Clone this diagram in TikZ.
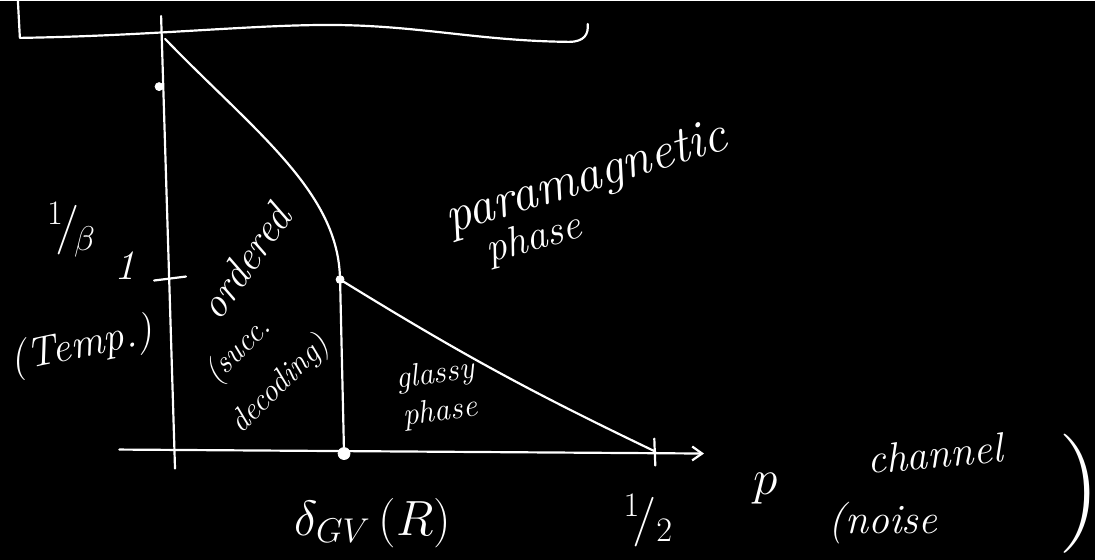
\documentclass[tikz,border=0pt]{standalone}
\usepackage{tikz}
\usetikzlibrary{arrows.meta,positioning}
\tikzset{
  ink/.style   = {draw=white, line width=1.1pt, line cap=round, line join=round},
  axis/.style  = {ink, -{Straight Barb[length=5pt, width=7pt]}},
  dot/.style   = {circle, draw=white, fill=white, inner sep=0pt, minimum size=4pt},
  hand/.style  = {text=white, inner sep=0pt, align=center},
  handL/.style = {hand, font=\fontsize{26}{28}\selectfont\itshape},
  handM/.style = {hand, font=\fontsize{21}{22}\selectfont\itshape},
  handS/.style = {hand, font=\fontsize{16}{19}\selectfont\itshape},
}
\begin{document}
\begin{tikzpicture}[x=0.5pt, y=-0.5pt]
  \fill[black] (0,0) rectangle (1101,562);
  % ---- edge of the frame at the top ----
  \draw[ink] (18,0) -- (20,37) .. controls (150,35) and (250,24) .. (330,24)
    .. controls (420,24) and (480,40) .. (572,41)
    .. controls (588,41) and (592,33) .. (591,23);
  % ---- axes ----
  \coordinate (yTop) at (162,15);
  \coordinate (yBot) at (176,470);
  \coordinate (xLeft) at (120,451);
  \coordinate (xRight) at (708,455);
  \draw[ink] (yTop) -- (yBot);
  \draw[axis] (xLeft) -- (xRight);
  \coordinate (tickL) at (155,281);
  \coordinate (tickR) at (187,277);
  \draw[ink] (tickL) -- (tickR);
  \coordinate (halfTop) at (658,440);
  \coordinate (halfBot) at (659,467);
  \draw[ink] (halfTop) -- (halfBot);
  % ---- phase boundaries ----
  \node[dot] (yDot) at (160,86) {};
  \coordinate (crit) at (166,38);
  \node[dot] (tp) at (342,280) {};
  \node[dot, minimum size=6pt] (gv) at (346,455) {};
  \coordinate (half) at (659,453);
  \draw[ink] (crit) .. controls (255,130) and (338,190) .. (tp);
  \draw[ink] (tp) -- (gv);
  \draw[ink] (tp) to[bend right=3] (half);
  % ---- labels ----
  \node[handL] (beta) at (72,230) {$^{1}\!/_{\!\beta}$};
  \node[handM] (one) at (126,266) {1};
  \node[handM, rotate=12] (temp) at (82,348) {(Temp.)};
  \node[handM, rotate=55] (ordered) at (246,262) {ordered};
  \node[handS, rotate=45] (succ) at (240,352) {(succ.};
  \node[handS, rotate=45] (decoding) at (282,386) {decoding)};
  \node[handS, rotate=8] (glassy) at (440,395) {glassy\\ phase};
  \node[handL, rotate=17] (para) at (590,180) {paramagnetic};
  \node[handM, rotate=15] (paraPh) at (537,240) {phase};
  \node[handL] (dGV) at (375,525) {$\delta_{GV}\,(R)$};
  \node[handL] (halfLbl) at (652,522) {$^{1}\!/_{2}$};
  \node[handL] (pLbl) at (770,490) {$p$};
  \node[handM, rotate=5] (channel) at (940,455) {channel};
  \node[handM] (noise) at (888,525) {(noise};
  \node[hand, font=\fontsize{60}{60}\selectfont] (paren) at (1086,495) {)};
\end{tikzpicture}
\end{document}
